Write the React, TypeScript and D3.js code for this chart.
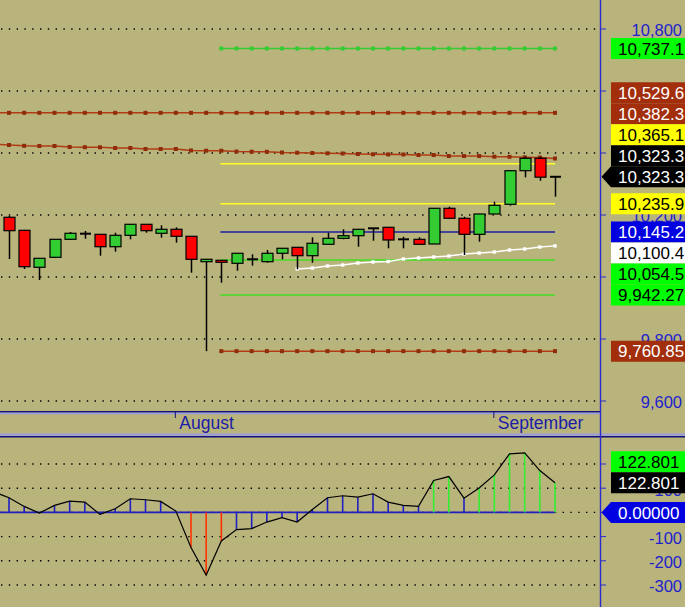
import React from 'react';
import * as d3 from 'd3';

const W = 685;
const H = 607;

// ---------- DATA ----------
const opens = [10192.6, 10150.6, 10031.3, 10063.5, 10121.6, 10139.7, 10137.7, 10097.7, 10134.5, 10170.0, 10141.0, 10153.9, 10131.3, 10049.4, 10053.9, 10044.2, 10057.1, 10049.4, 10076.5, 10095.8, 10068.7, 10105.5, 10124.8, 10133.2, 10157.1, 10160.3, 10121.6, 10121.6, 10106.5, 10221.6, 10189.4, 10137.7, 10203.2, 10234.5, 10342.9, 10382.9, 10323.3];
const highs = [10196.8, 10152.0, 10061.0, 10122.0, 10145.2, 10148.4, 10138.5, 10142.9, 10171.0, 10171.0, 10166.8, 10160.3, 10132.0, 10058.0, 10055.0, 10077.0, 10073.2, 10087.1, 10093.0, 10096.5, 10128.1, 10142.9, 10153.9, 10155.0, 10157.1, 10161.0, 10130.0, 10128.1, 10222.0, 10226.8, 10194.5, 10204.0, 10242.9, 10344.0, 10388.1, 10388.1, 10325.0];
const lows = [10058.1, 10025.8, 9990.3, 10063.0, 10121.0, 10123.5, 10068.7, 10081.6, 10121.6, 10142.9, 10126.8, 10110.6, 10013.9, 9760.85, 9981.6, 10020.3, 10036.5, 10046.1, 10057.1, 10024.8, 10046.1, 10105.0, 10121.6, 10097.7, 10117.1, 10092.6, 10092.6, 10105.0, 10106.0, 10189.0, 10071.0, 10113.9, 10203.0, 10230.0, 10321.6, 10310.6, 10259.0];
const closes = [10149.4, 10033.2, 10060.3, 10121.6, 10141.0, 10139.7, 10097.7, 10134.5, 10170.0, 10149.4, 10153.9, 10131.3, 10057.1, 10057.1, 10047.4, 10076.5, 10057.1, 10076.5, 10092.6, 10068.7, 10108.7, 10124.8, 10133.2, 10153.9, 10157.1, 10119.4, 10121.6, 10105.5, 10221.6, 10189.4, 10137.7, 10203.2, 10231.3, 10342.9, 10382.9, 10322.0, 10323.3];

// moving average (first value belongs to the bar before the visible window)
const maPrior = 10428.5;
const maValues = [10425.8, 10423.2, 10422.6, 10422.6, 10419.4, 10418.7, 10418.4, 10416.1, 10416.1, 10412.9, 10412.9, 10412.9, 10408.1, 10407.4, 10407.4, 10404.8, 10404.2, 10403.9, 10401.6, 10401.0, 10400.0, 10399.0, 10398.4, 10396.8, 10395.8, 10395.5, 10395.2, 10393.5, 10393.5, 10390.3, 10390.3, 10390.3, 10388.1, 10387.7, 10386.1, 10385.5, 10382.3];

const resistanceLevel = 10529.6;

// rising line (from bar 19 to last bar)
const trendStart = 19;
const trendValues = [10025.8, 10029.0, 10035.5, 10038.7, 10045.2, 10048.4, 10050.0, 10058.1, 10061.3, 10064.5, 10067.7, 10074.2, 10077.4, 10080.6, 10087.1, 10090.3, 10096.8, 10100.4];

// horizontal levels drawn from bar 14 to last bar
const levelStart = 14;
const levelValues = [10737.1, 10365.1, 10235.9, 10145.2, 10054.5, 9942.27, 9760.85];

// oscillator (first value belongs to the bar before)
const oscPrior = 85;
const oscValues = [60.5, 24.7, -2.9, 28.8, 46.5, 42.4, -8.2, 15.2, 56.4, 52.3, 45.3, 5.3, -145.3, -259.3, -118.1, -71.2, -67.1, -39.9, -21.8, -39.9, 12.3, 60.5, 68.7, 63.0, 77.0, 42.4, 28.8, 24.7, 131.7, 148.1, 58.8, 101.0, 155.1, 241.6, 245.7, 172.8, 122.801];

const priceTicks = [10800, 10600, 10400, 10200, 10000, 9800, 9600];
const priceTickLabels = ['10,800', '10,600', '10,400', '10,200', '10,000', '9,800', '9,600'];
const oscTicks = [200, 100, 0, -100, -200, -300];
const oscTickLabels = ['200', '100', '0', '-100', '-200', '-300'];

const monthIndex = [11, 32];
const monthLabels = ['August', 'September'];

const priceLabelValues = [10737.1, 10529.6, 10382.3, 10365.1, 10323.3, 10323.3, 10235.9, 10145.2, 10100.4, 10054.5, 9942.27, 9760.85];
const priceLabelTexts = ['10,737.1', '10,529.6', '10,382.3', '10,365.1', '10,323.3', '10,323.3', '10,235.9', '10,145.2', '10,100.4', '10,054.5', '9,942.27', '9,760.85'];
const priceLabelAnchor = 5;

const oscLabelValues = [122.801, 122.801, 0];
const oscLabelTexts = ['122.801', '122.801', '0.00000'];
const oscLabelAnchor = 2;

// ---------- STYLES ----------
const BG = '#B9B47B';
const GREEN_C = '#33CC33';
const RED_C = '#FF0000';
const BROWN = '#B23A14';
const BROWN_MK = '#8E2C0C';
const BOX_BROWN = '#A22E0C';
const AXIS_BLUE = '#2222CC';
const FONT = '"Liberation Sans", Arial, sans-serif';

const priceLabelStyle = [
  { bg: '#00FF00', fg: '#000' },
  { bg: BOX_BROWN, fg: '#fff' },
  { bg: BOX_BROWN, fg: '#fff' },
  { bg: '#FFFF00', fg: '#000' },
  { bg: '#000000', fg: '#fff' },
  { bg: '#000000', fg: '#fff' },
  { bg: '#FFFF00', fg: '#000' },
  { bg: '#0000E0', fg: '#fff' },
  { bg: '#FFFFFF', fg: '#000' },
  { bg: '#00FF00', fg: '#000' },
  { bg: '#00FF00', fg: '#000' },
  { bg: BOX_BROWN, fg: '#fff' },
];
const oscLabelStyle = [
  { bg: '#00FF00', fg: '#000' },
  { bg: '#000000', fg: '#fff' },
  { bg: '#0000E0', fg: '#fff' },
];
const levelStyle = [
  { color: '#33CC33', width: 1.5, marker: 'circle' },
  { color: '#FFFF22', width: 1.5, marker: '' },
  { color: '#FFFF22', width: 1.5, marker: '' },
  { color: '#1E1EA0', width: 1.5, marker: '' },
  { color: '#44DD22', width: 1.5, marker: '' },
  { color: '#44DD22', width: 1.5, marker: '' },
  { color: BROWN, width: 1.5, marker: 'square' },
];

const PLOT_R = 600;
const BOX_H = 21;

function stack(values: number[], anchor: number, y: (v: number) => number) {
  const pos = values.map((v) => y(v));
  const out = pos.slice();
  for (let i = anchor - 1; i >= 0; i--) out[i] = Math.min(pos[i], out[i + 1] - BOX_H);
  for (let i = anchor + 1; i < values.length; i++) out[i] = Math.max(pos[i], out[i - 1] + BOX_H);
  return out;
}

// a tick label is skipped when a value box fully hides it
function hidden(ty: number, boxes: number[]) {
  return boxes.some((cy) => ty - 5 >= cy - BOX_H / 2 && ty + 6 <= cy + BOX_H / 2);
}

export default function App() {
  const n = closes.length;
  const x = d3.scaleLinear().domain([0, n - 1]).range([9, 555]);
  const y = d3.scaleLinear().domain([9600, 10800]).range([401, 29]);
  const yo = d3.scaleLinear().domain([-300, 200]).range([585, 464]);
  const bw = 11;

  const idx = d3.range(n);
  const maLine = d3.line<number>().x((d, i) => x(i - 1)).y((d) => y(d))([maPrior, ...maValues]) || '';
  const resLine = `M0,${y(resistanceLevel)}H${x(n - 1)}`;
  const trendLine = d3.line<number>().x((d, i) => x(trendStart + i)).y((d) => y(d))(trendValues) || '';
  const oscLine = d3.line<number>().x((d, i) => x(i - 1)).y((d) => yo(d))([oscPrior, ...oscValues]) || '';

  const pY = stack(priceLabelValues, priceLabelAnchor, y);
  const oY = stack(oscLabelValues, oscLabelAnchor, yo);

  const renderBox = (cy: number, text: string, st: { bg: string; fg: string }, arrow: boolean, key: string) => {
    const t = cy - BOX_H / 2;
    const b = cy + BOX_H / 2;
    const d = arrow
      ? `M601.5,${cy}L611,${t}H${W}V${b}H611Z`
      : `M611,${t}H${W}V${b}H611Z`;
    return (
      <g key={key}>
        <path d={d} fill={st.bg} />
        <text x={618} y={cy} dy="0.36em" fill={st.fg} fontSize={17} fontFamily={FONT}>{text}</text>
      </g>
    );
  };

  return (
    <svg width={W} height={H} style={{ position: 'fixed', left: 0, top: 0 }} xmlns="http://www.w3.org/2000/svg">
      <defs>
        <clipPath id="plot"><rect x={0} y={0} width={PLOT_R} height={411} /></clipPath>
        <clipPath id="osc"><rect x={0} y={438} width={PLOT_R} height={H - 438} /></clipPath>
      </defs>
      <rect x={0} y={0} width={W} height={H} fill={BG} />

      {/* grid */}
      {priceTicks.map((t) => (
        <line key={'gp' + t} x1={1} x2={PLOT_R - 4} y1={y(t)} y2={y(t)} stroke="#000" strokeWidth={1.4} strokeDasharray="1.4 6.4" />
      ))}
      {oscTicks.map((t) => (
        <line key={'go' + t} x1={1} x2={PLOT_R - 4} y1={yo(t)} y2={yo(t)} stroke="#000" strokeWidth={1.4} strokeDasharray="1.4 6.4" />
      ))}

      <g clipPath="url(#plot)">
        {/* levels */}
        {levelValues.map((v, k) => {
          const st = levelStyle[k];
          const xs = d3.range(levelStart, n);
          return (
            <g key={'lv' + k}>
              <line x1={x(levelStart) - 1} x2={x(n - 1)} y1={y(v)} y2={y(v)} stroke={st.color} strokeWidth={st.width} />
              {st.marker === 'circle' && xs.map((i) => <circle key={i} cx={x(i)} cy={y(v)} r={2.3} fill={st.color} />)}
              {st.marker === 'square' && xs.map((i) => <rect key={i} x={x(i) - 2} y={y(v) - 2} width={4} height={4} fill={BROWN_MK} />)}
            </g>
          );
        })}
        {/* resistance */}
        <path d={resLine} stroke={BROWN} strokeWidth={1.6} fill="none" />
        {idx.map((i) => <rect key={'rs' + i} x={x(i) - 2} y={y(resistanceLevel) - 2} width={4} height={4} fill={BROWN_MK} />)}
        {/* moving average */}
        <path d={maLine} stroke={BROWN} strokeWidth={1.6} fill="none" />
        {maValues.map((v, i) => <rect key={'ma' + i} x={x(i) - 2} y={y(v) - 2} width={4} height={4} fill={BROWN_MK} />)}
        {/* trend */}
        <path d={trendLine} stroke="#FFFFFF" strokeWidth={1.5} fill="none" />
        {trendValues.map((v, i) => <rect key={'tr' + i} x={x(trendStart + i) - 1.7} y={y(v) - 1.7} width={3.4} height={3.4} fill="#FFFFFF" />)}

        {/* candles */}
        {idx.map((i) => {
          const o = opens[i], c = closes[i], h = highs[i], l = lows[i];
          const cx = Math.round(x(i)) + 0.5;
          const top = y(Math.max(o, c));
          const bot = y(Math.min(o, c));
          const doji = Math.abs(o - c) < 0.05;
          return (
            <g key={'c' + i}>
              <line x1={cx} x2={cx} y1={y(h)} y2={y(l)} stroke="#000" strokeWidth={1.5} />
              {doji ? (
                <line x1={cx - bw / 2} x2={cx + bw / 2} y1={top} y2={top} stroke="#000" strokeWidth={2} />
              ) : (
                <rect x={cx - bw / 2} y={top} width={bw} height={Math.max(1, bot - top)} fill={c > o ? GREEN_C : RED_C} stroke="#000" strokeWidth={1.2} />
              )}
            </g>
          );
        })}
      </g>

      {/* oscillator */}
      <g clipPath="url(#osc)">
        <line x1={0} x2={x(n - 1)} y1={yo(0)} y2={yo(0)} stroke="#2020C0" strokeWidth={1.6} />
        {oscValues.map((v, i) => (
          <line key={'ob' + i} x1={x(i)} x2={x(i)} y1={yo(0)} y2={yo(v)} strokeWidth={1.6}
            stroke={v > 100 ? '#33EE33' : v < -100 ? '#FF3300' : '#2020C0'} />
        ))}
        <path d={oscLine} stroke="#000" strokeWidth={1.2} fill="none" />
      </g>

      {/* panel separators */}
      <line x1={0} x2={PLOT_R} y1={411.8} y2={411.8} stroke="#10107A" strokeWidth={1.6} />
      <line x1={0} x2={PLOT_R} y1={413.5} y2={413.5} stroke="#9A9AE6" strokeWidth={1.6} />
      <line x1={0} x2={W} y1={434.5} y2={434.5} stroke="#9A9AE6" strokeWidth={2} />
      <line x1={0} x2={W} y1={436.8} y2={436.8} stroke="#10107A" strokeWidth={1.6} />

      {/* date axis */}
      {monthIndex.map((mi, k) => (
        <g key={'m' + k}>
          <line x1={x(mi) - 0.5} x2={x(mi) - 0.5} y1={412} y2={418} stroke="#10107A" strokeWidth={1} />
          <text x={x(mi) + 3.5} y={428.5} fill="#1C1CA8" fontSize={17.5} fontFamily={FONT}>{monthLabels[k]}</text>
        </g>
      ))}

      {/* right axis */}
      <line x1={600.5} x2={600.5} y1={0} y2={H} stroke="#2A2AD0" strokeWidth={1.4} />
      {priceTicks.map((t, k) => (
        <g key={'pt' + t}>
          <line x1={601} x2={606} y1={y(t)} y2={y(t)} stroke="#2A2AD0" strokeWidth={1} />
          {!hidden(y(t), pY) && (
            <text x={682} y={y(t) + 1.5} dy="0.36em" textAnchor="end" fill={AXIS_BLUE} fontSize={16.5} fontFamily={FONT}>{priceTickLabels[k]}</text>
          )}
        </g>
      ))}
      {oscTicks.map((t, k) => (
        <g key={'ot' + t}>
          <line x1={601} x2={606} y1={yo(t)} y2={yo(t)} stroke="#2A2AD0" strokeWidth={1} />
          {!hidden(yo(t), oY) && (
            <text x={682} y={yo(t) + 1.5} dy="0.36em" textAnchor="end" fill={AXIS_BLUE} fontSize={16.5} fontFamily={FONT}>{oscTickLabels[k]}</text>
          )}
        </g>
      ))}

      {/* value boxes */}
      {priceLabelValues.map((v, k) => renderBox(pY[k], priceLabelTexts[k], priceLabelStyle[k], k === priceLabelAnchor, 'pl' + k))}
      {oscLabelValues.map((v, k) => renderBox(oY[k], oscLabelTexts[k], oscLabelStyle[k], k === oscLabelAnchor, 'ol' + k))}
    </svg>
  );
}
